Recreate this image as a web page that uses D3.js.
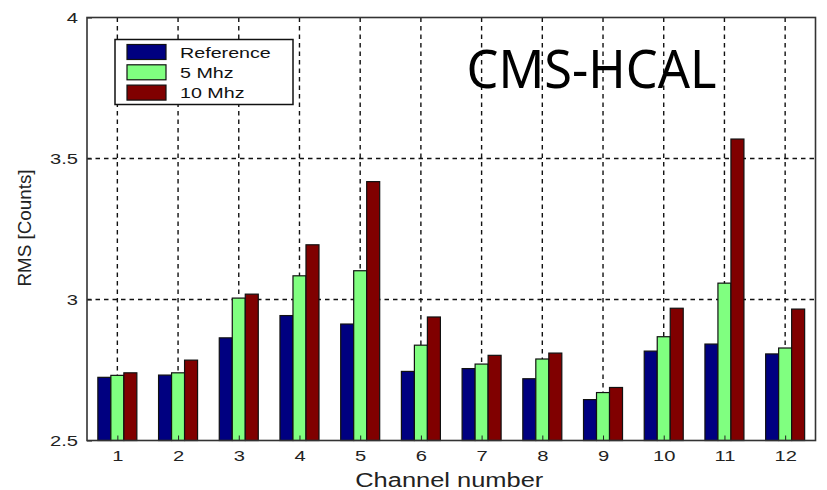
<!DOCTYPE html>
<html>
<head>
<meta charset="utf-8">
<script src="https://cdn.jsdelivr.net/npm/d3@7"></script>
<style>
  html, body { margin: 0; padding: 0; background: #fff; }
  svg { display: block; }
</style>
</head>
<body>
<svg id="chart" width="827" height="490"></svg>
<script>
const categories = [1, 2, 3, 4, 5, 6, 7, 8, 9, 10, 11, 12];
const seriesNames = ["Reference", "5 Mhz", "10 Mhz"];
const reference = [2.724, 2.732, 2.864, 2.943, 2.913, 2.745, 2.755, 2.719, 2.645, 2.817, 2.842, 2.807];
const mhz5      = [2.731, 2.740, 3.005, 3.084, 3.102, 2.838, 2.771, 2.789, 2.670, 2.868, 3.058, 2.828];
const mhz10     = [2.740, 2.785, 3.019, 3.194, 3.418, 2.938, 2.802, 2.810, 2.688, 2.969, 3.569, 2.966];
const yTicks = [2.5, 3, 3.5, 4];
const colors = ["#000080", "#80ff80", "#800000"];
const title = "CMS-HCAL";
const xLabel = "Channel number";
const yLabel = "RMS [Counts]";

const seriesValues = [reference, mhz5, mhz10];
const svg = d3.select("#chart");
const pLeft = 87, pRight = 815.5, pTop = 17.5, pBottom = 440.5;
const font = "'Liberation Sans', Arial, Helvetica, sans-serif";
const stretch = 1.3;

const x = d3.scaleLinear().domain([0.5, 12.5]).range([pLeft, pRight]);
const y = d3.scaleLinear().domain([2.5, 4]).range([pBottom, pTop]);
const sub = d3.scaleBand().domain(seriesNames).range([-19.5, 19.5]).padding(0);

function widen(sel, f) {
  sel.each(function () {
    const w = this.getComputedTextLength();
    this.setAttribute("textLength", w * f);
    this.setAttribute("lengthAdjust", "spacingAndGlyphs");
  });
}

// grid
const grid = svg.append("g").attr("stroke", "#111").attr("stroke-width", 1.4).attr("stroke-dasharray", "4.5,4");
grid.selectAll("line.v").data(categories).join("line")
  .attr("x1", d => x(d)).attr("x2", d => x(d))
  .attr("y1", pTop).attr("y2", pBottom);
grid.selectAll("line.h").data(yTicks.filter(t => t > 2.5 && t < 4)).join("line")
  .attr("x1", pLeft).attr("x2", pRight)
  .attr("y1", d => y(d)).attr("y2", d => y(d));

// bars
const barData = [];
categories.forEach((c, i) => seriesNames.forEach((s, j) => barData.push({ c, s, j, v: seriesValues[j][i] })));
svg.append("g").selectAll("rect").data(barData).join("rect")
  .attr("x", d => x(d.c) + sub(d.s))
  .attr("width", sub.bandwidth())
  .attr("y", d => y(d.v))
  .attr("height", d => y(2.5) - y(d.v))
  .attr("fill", d => colors[d.j])
  .attr("stroke", "#111")
  .attr("stroke-width", 1.2);

// axes
const xAxis = d3.axisBottom(x).tickValues(categories).tickSize(-5).tickPadding(10).tickFormat(d3.format("d"));
const yAxis = d3.axisLeft(y).tickValues(yTicks).tickSize(-5).tickPadding(9).tickFormat(d => d3.format("")(d));
const gx = svg.append("g").attr("transform", `translate(0,${pBottom})`).call(xAxis);
const gy = svg.append("g").attr("transform", `translate(${pLeft},0)`).call(yAxis);
[gx, gy].forEach(g => {
  g.select(".domain").remove();
  g.selectAll(".tick line").attr("stroke", "#222").attr("stroke-width", 1);
  g.selectAll(".tick text").attr("fill", "#222").style("font-family", font).style("font-size", "15.5px");
});
gx.selectAll(".tick text").attr("dy", "0.7em");
widen(gx.selectAll(".tick text"), stretch);
widen(gy.selectAll(".tick text"), stretch);

// box
svg.append("rect").attr("x", pLeft).attr("y", pTop).attr("width", pRight - pLeft).attr("height", pBottom - pTop)
  .attr("fill", "none").attr("stroke", "#333").attr("stroke-width", 1.6);

// axis labels
svg.append("text").attr("x", (pLeft + pRight) / 2 - 2).attr("y", 486.5).attr("text-anchor", "middle")
  .style("font-family", font).style("font-size", "20px").attr("fill", "#222")
  .attr("textLength", 188).attr("lengthAdjust", "spacingAndGlyphs").text(xLabel);
svg.append("text").attr("transform", "translate(31,228) rotate(-90)").attr("text-anchor", "middle")
  .style("font-family", font).style("font-size", "18px").attr("fill", "#222")
  .attr("textLength", 117).attr("lengthAdjust", "spacingAndGlyphs").text(yLabel);

// legend
const lg = svg.append("g");
lg.append("rect").attr("x", 115).attr("y", 39.5).attr("width", 178).attr("height", 65)
  .attr("fill", "#fff").attr("stroke", "#111").attr("stroke-width", 1.5);
const items = lg.selectAll("g").data(seriesNames).join("g")
  .attr("transform", (d, i) => `translate(0,${44.5 + i * 20.3})`);
items.append("rect").attr("x", 127).attr("y", 0).attr("width", 39).attr("height", 15)
  .attr("fill", (d, i) => colors[i]).attr("stroke", "#111").attr("stroke-width", 1.2);
const lt = items.append("text").attr("x", 180).attr("y", 13).style("font-family", font)
  .style("font-size", "15.5px").attr("fill", "#111").text(d => d);
widen(lt, 1.27);

// title annotation
svg.append("text").attr("x", 466.5).attr("y", 88).style("font-family", "'Noto Sans', 'Open Sans', sans-serif")
  .style("font-size", "53px").attr("fill", "#000")
  .attr("textLength", 250).attr("lengthAdjust", "spacingAndGlyphs").text(title);
</script>
</body>
</html>
